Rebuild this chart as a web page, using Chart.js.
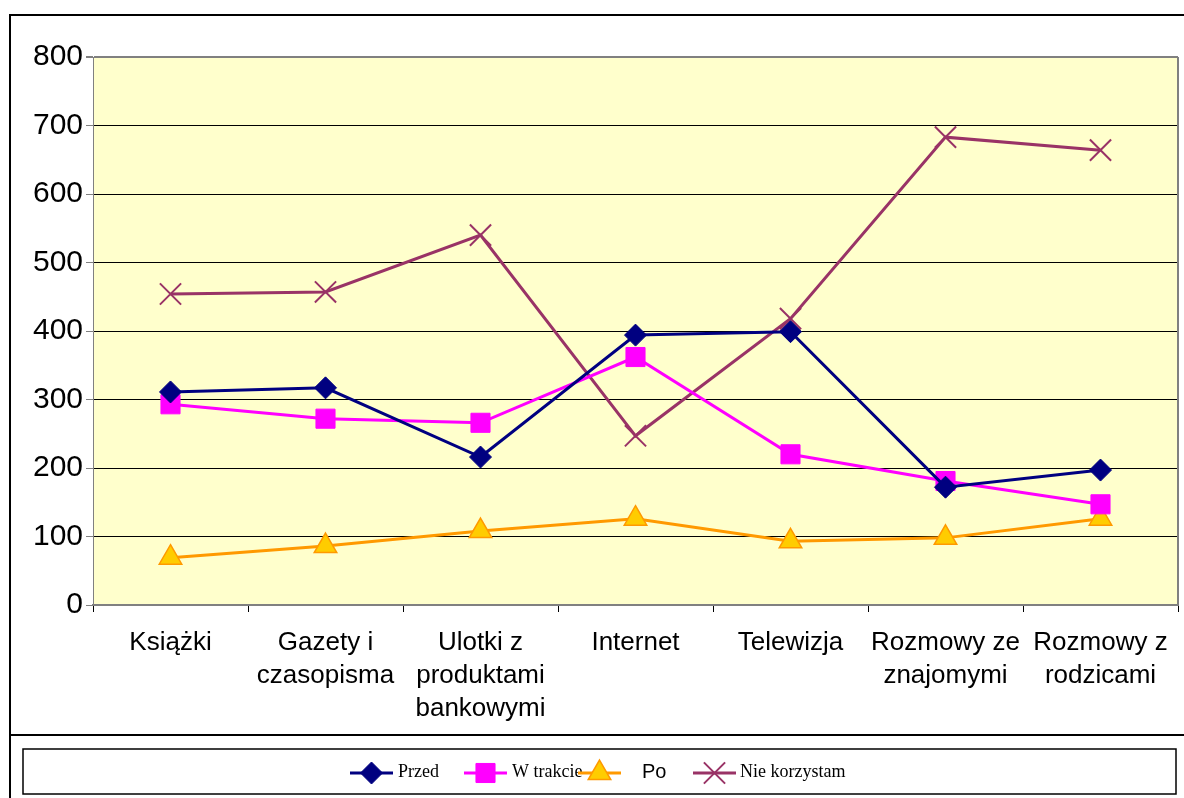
<!DOCTYPE html>
<html>
<head>
<meta charset="utf-8">
<script src="https://cdn.jsdelivr.net/npm/chart.js@4/dist/chart.umd.min.js"></script>
<style>
  html, body { margin: 0; padding: 0; background: #fff; }
  #wrap { width: 1184px; height: 798px; }
</style>
</head>
<body>
<div id="wrap"><canvas id="chart" width="1184" height="798"></canvas></div>
<script>
const categories = [
  'Książki',
  ['Gazety i', 'czasopisma'],
  ['Ulotki z', 'produktami', 'bankowymi'],
  'Internet',
  'Telewizja',
  ['Rozmowy ze', 'znajomymi'],
  ['Rozmowy z', 'rodzicami']
];
const przed = [311, 317, 216, 394, 399, 172, 197];
const wTrakcie = [293, 272, 266, 362, 220, 181, 147];
const po = [69, 86, 108, 126, 93, 98, 126];
const nieKorzystam = [454, 457, 540, 247, 418, 683, 664];
const yTicks = [0, 100, 200, 300, 400, 500, 600, 700, 800];

const sans = "'Liberation Sans', Arial, sans-serif";
const serif = "'Liberation Serif', 'Times New Roman', serif";

// background, frames and the legend box
const decor = {
  id: 'decor',
  beforeDraw(chart) {
    const c = chart.ctx, a = chart.chartArea;
    c.save();
    c.fillStyle = '#FFFFCC';
    c.fillRect(a.left, a.top, a.right - a.left, a.bottom - a.top);
    c.restore();
  },
  afterDraw(chart) {
    const c = chart.ctx, a = chart.chartArea;
    c.save();
    // right border of plot
    c.strokeStyle = '#808080';
    c.lineWidth = 2;
    c.beginPath();
    c.moveTo(a.right, a.top);
    c.lineTo(a.right, a.bottom);
    c.stroke();
    // outer frame
    c.strokeStyle = '#000';
    c.lineWidth = 2;
    c.beginPath();
    c.moveTo(1184, 15); c.lineTo(10, 15); c.lineTo(10, 798);
    c.moveTo(10, 735); c.lineTo(1184, 735);
    c.stroke();
    // legend box
    c.lineWidth = 1.5;
    c.strokeRect(23, 749, 1153, 45);
    // legend entries
    const items = [
      { x: 350, tx: 398, font: '18px ' + serif },
      { x: 464, tx: 512, font: '18px ' + serif },
      { x: 578, tx: 642, font: '20px ' + sans },
      { x: 693, tx: 740, font: '18px ' + serif }
    ];
    const ly = 773;
    chart.data.datasets.forEach((ds, i) => {
      const it = items[i];
      c.strokeStyle = ds.borderColor;
      c.lineWidth = 3;
      c.beginPath();
      c.moveTo(it.x, ly); c.lineTo(it.x + 43, ly);
      c.stroke();
      c.fillStyle = ds.pointBackgroundColor;
      c.strokeStyle = ds.pointBorderColor;
      c.lineWidth = ds.pointBorderWidth;
      Chart.helpers.drawPoint(c, { pointStyle: ds.pointStyle, radius: ds.pointRadius, rotation: 0, borderWidth: ds.pointBorderWidth }, it.x + 21.5, ly);
      c.fillStyle = '#000';
      c.font = it.font;
      c.textBaseline = 'middle';
      c.textAlign = 'left';
      c.fillText(ds.label, it.tx, ly - 1);
    });
    c.restore();
  }
};

new Chart(document.getElementById('chart'), {
  type: 'line',
  data: {
    labels: categories,
    datasets: [
      { label: 'Przed', data: przed, borderColor: '#000080', borderWidth: 3,
        pointStyle: 'rectRot', pointRadius: 11, pointBackgroundColor: '#000080', pointBorderColor: '#000080', pointBorderWidth: 1 },
      { label: 'W trakcie', data: wTrakcie, borderColor: '#FF00FF', borderWidth: 3,
        pointStyle: 'rect', pointRadius: 13.5, pointBackgroundColor: '#FF00FF', pointBorderColor: '#FF00FF', pointBorderWidth: 1 },
      { label: 'Po', data: po, borderColor: '#FF9900', borderWidth: 3,
        pointStyle: 'triangle', pointRadius: 13, pointBackgroundColor: '#FFCC00', pointBorderColor: '#FF9900', pointBorderWidth: 1.5 },
      { label: 'Nie korzystam', data: nieKorzystam, borderColor: '#993366', borderWidth: 3,
        pointStyle: 'crossRot', pointRadius: 15, pointBackgroundColor: '#993366', pointBorderColor: '#993366', pointBorderWidth: 2 }
    ]
  },
  options: {
    responsive: false,
    animation: false,
    layout: { autoPadding: false, padding: { left: 10, top: 57, right: 6, bottom: 0 } },
    plugins: { legend: { display: false }, tooltip: { enabled: false } },
    elements: { line: { tension: 0 } },
    scales: {
      x: {
        offset: true,
        afterFit: s => { s.height = 193; },
        grid: { offset: true, drawOnChartArea: false, drawTicks: true, tickLength: 7, tickColor: '#000' },
        border: { color: '#808080', width: 2 },
        ticks: { color: '#000', font: { family: sans, size: 26, lineHeight: 1.27 }, maxRotation: 0, autoSkip: false, padding: 14 }
      },
      y: {
        min: 0, max: 800,
        afterFit: s => { s.width = 83; },
        afterBuildTicks: s => { s.ticks = yTicks.map(v => ({ value: v })); },
        grid: {
          color: ctx => (ctx.tick && ctx.tick.value === 800) ? '#808080' : '#000',
          lineWidth: ctx => (ctx.tick && ctx.tick.value === 800) ? 2 : 1,
          tickLength: 7, tickColor: '#808080'
        },
        border: { color: '#808080', width: 1 },
        ticks: { color: '#000', font: { family: sans, size: 30 }, padding: 3 }
      }
    }
  },
  plugins: [decor]
});
</script>
</body>
</html>
